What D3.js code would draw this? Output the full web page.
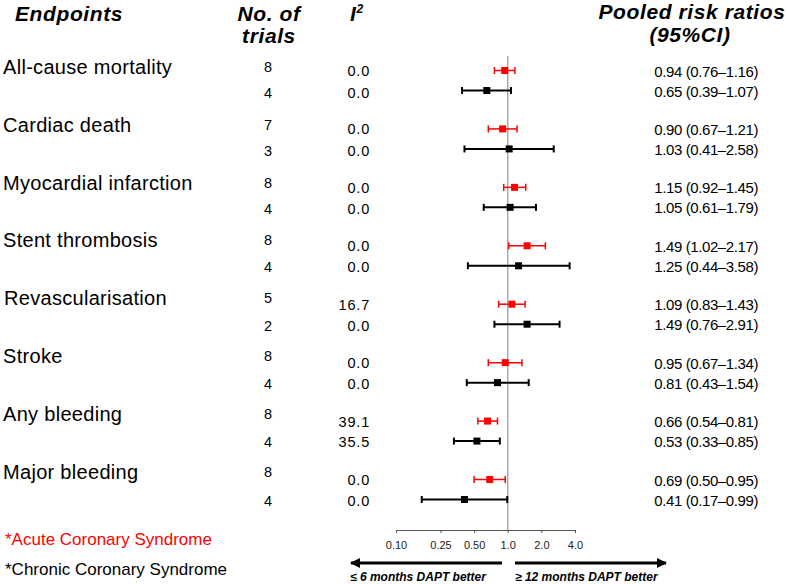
<!DOCTYPE html>
<html><head><meta charset="utf-8">
<script src="https://cdn.jsdelivr.net/npm/d3@7"></script>
<style>body{margin:0;background:#fff}svg{display:block;font-family:"Liberation Sans",Arial,sans-serif}</style>
</head><body><svg id="c" width="787" height="584"></svg>
<script>
const endpoints = ["All-cause mortality","Cardiac death","Myocardial infarction","Stent thrombosis","Revascularisation","Stroke","Any bleeding","Major bleeding"];
const trialsACS = [8,7,8,8,5,8,8,8];
const trialsCCS = [4,3,4,4,2,4,4,4];
const i2ACS = ["0.0","0.0","0.0","0.0","16.7","0.0","39.1","0.0"];
const i2CCS = ["0.0","0.0","0.0","0.0","0.0","0.0","35.5","0.0"];
const rrACS = [0.94,0.90,1.15,1.49,1.09,0.95,0.66,0.69];
const loACS = [0.76,0.67,0.92,1.02,0.83,0.67,0.54,0.50];
const hiACS = [1.16,1.21,1.45,2.17,1.43,1.34,0.81,0.95];
const rrCCS = [0.65,1.03,1.05,1.25,1.49,0.81,0.53,0.41];
const loCCS = [0.39,0.41,0.61,0.44,0.76,0.43,0.33,0.17];
const hiCCS = [1.07,2.58,1.79,3.58,2.91,1.54,0.85,0.99];
const tickVals = [0.10,0.25,0.50,1.0,2.0,4.0];
const tickLabels = ["0.10","0.25","0.50","1.0","2.0","4.0"];

const svg = d3.select("#c");
const x = d3.scaleLog().domain([0.10,4.0]).range([396,575]);
const y = d3.scaleLinear().domain([0,7]).range([70.5,479.5]);
const ty = d3.scaleLinear().domain([0,7]).range([67.5,472]); // text rows
const ccsOff = 20;
const fmt = v => v.toFixed(2);

// headers
const hdr = svg.append("g").attr("font-weight","bold").attr("font-style","italic").attr("font-size",21).attr("letter-spacing",0.6).attr("fill","#000");
hdr.append("text").attr("x",15).attr("y",21).text("Endpoints");
hdr.append("text").attr("x",269).attr("y",21).attr("text-anchor","middle").text("No. of");
hdr.append("text").attr("x",269).attr("y",43).attr("text-anchor","middle").text("trials");
const i2h = hdr.append("text").attr("x",350).attr("y",21);
i2h.append("tspan").text("I");
i2h.append("tspan").attr("font-size",12).attr("dy",-8).text("2");
hdr.append("text").attr("x",692).attr("y",19).attr("text-anchor","middle").text("Pooled risk ratios");
hdr.append("text").attr("x",690).attr("y",42).attr("text-anchor","middle").text("(95%CI)");

// endpoint labels
const indent = {"Revascularisation":1};
svg.append("g").selectAll("text").data(endpoints).join("text")
  .attr("x",d=>3+(indent[d]||0)).attr("y",(d,i)=>ty(i)+6.5).attr("font-size",20).attr("letter-spacing",0.3).text(d=>d);

// trials & I2
const tg = svg.append("g").attr("font-size",14.5).attr("fill","#000");
tg.selectAll(".ta").data(trialsACS).join("text").attr("x",268).attr("y",(d,i)=>ty(i)+4.5).attr("text-anchor","middle").text(d=>d);
tg.selectAll(".tc").data(trialsCCS).join("text").attr("x",268).attr("y",(d,i)=>ty(i)+ccsOff+10+i*0.5).attr("text-anchor","middle").text(d=>d);
tg.selectAll(".ia").data(i2ACS).join("text").attr("x",370).attr("y",(d,i)=>y(i)+5.5).attr("text-anchor","end").attr("letter-spacing",0.8).text(d=>d);
tg.selectAll(".ic").data(i2CCS).join("text").attr("x",370).attr("y",(d,i)=>ty(i)+ccsOff+10+i*0.5).attr("text-anchor","end").attr("letter-spacing",0.8).text(d=>d);

// RR text
const rg = svg.append("g").attr("font-size",15).attr("fill","#000").attr("text-anchor","end").attr("letter-spacing",-0.4);
rg.selectAll(".ra").data(rrACS).join("text").attr("x",758).attr("y",(d,i)=>y(i)+6)
  .text((d,i)=>`${fmt(d)} (${fmt(loACS[i])}\u2013${fmt(hiACS[i])})`);
rg.selectAll(".rc").data(rrCCS).join("text").attr("x",758).attr("y",(d,i)=>y(i)+ccsOff+6)
  .text((d,i)=>`${fmt(d)} (${fmt(loCCS[i])}\u2013${fmt(hiCCS[i])})`);

// reference line
svg.append("line").attr("x1",x(1)).attr("x2",x(1)).attr("y1",56).attr("y2",530).attr("stroke","#aaa").attr("stroke-width",1.5);

// axis
const ax = svg.append("g").attr("transform","translate(0,530)")
  .call(d3.axisBottom(x).tickValues(tickVals).tickFormat((d,i)=>tickLabels[i]).tickSize(3).tickSizeOuter(0));
ax.select(".domain").attr("stroke","#555");
ax.selectAll(".tick line").attr("stroke","#555");
ax.selectAll(".tick text").attr("font-size",11).attr("fill","#222").attr("dy","1.15em").attr("font-family","Liberation Sans, Arial, sans-serif");

// error bars
function drawSeries(rr,lo,hi,off,color,sw){
  const g = svg.append("g").attr("stroke",color).attr("stroke-width",sw);
  rr.forEach((d,i)=>{
    const yy = y(i)+off;
    g.append("line").attr("x1",x(lo[i])).attr("x2",x(hi[i])).attr("y1",yy).attr("y2",yy);
    g.append("line").attr("x1",x(lo[i])).attr("x2",x(lo[i])).attr("y1",yy-3.5).attr("y2",yy+3.5);
    g.append("line").attr("x1",x(hi[i])).attr("x2",x(hi[i])).attr("y1",yy-3.5).attr("y2",yy+3.5);
    g.append("rect").attr("x",x(d)-3.5).attr("y",yy-3.5).attr("width",7).attr("height",7).attr("fill",color).attr("stroke","none");
  });
}
drawSeries(rrACS,loACS,hiACS,0,"#ff0000",1.5);
drawSeries(rrCCS,loCCS,hiCCS,ccsOff,"#000",2);

// footnotes
svg.append("text").attr("x",5).attr("y",545).attr("font-size",17).attr("fill","#ff0000").text("*Acute Coronary Syndrome");
svg.append("text").attr("x",5).attr("y",575).attr("font-size",17).attr("fill","#000").text("*Chronic Coronary Syndrome");

// arrows
const defs = svg.append("defs");
defs.append("marker").attr("id","ah").attr("viewBox","0 0 10 10").attr("refX",9).attr("refY",5)
  .attr("markerWidth",3.6).attr("markerHeight",3.6).attr("orient","auto-start-reverse")
  .append("path").attr("d","M0,0L10,5L0,10z").attr("fill","#000");
svg.append("line").attr("x1",502).attr("x2",351).attr("y1",563).attr("y2",563).attr("stroke","#000").attr("stroke-width",2.8).attr("marker-end","url(#ah)");
svg.append("line").attr("x1",515).attr("x2",666).attr("y1",563).attr("y2",563).attr("stroke","#000").attr("stroke-width",2.8).attr("marker-end","url(#ah)");
const lg = svg.append("g").attr("font-size",12).attr("font-weight","bold").attr("font-style","italic");
lg.append("text").attr("x",350).attr("y",581).text("\u2264 6 months DAPT better");
lg.append("text").attr("x",515).attr("y",581).text("\u2265 12 months DAPT better");
</script></body></html>
